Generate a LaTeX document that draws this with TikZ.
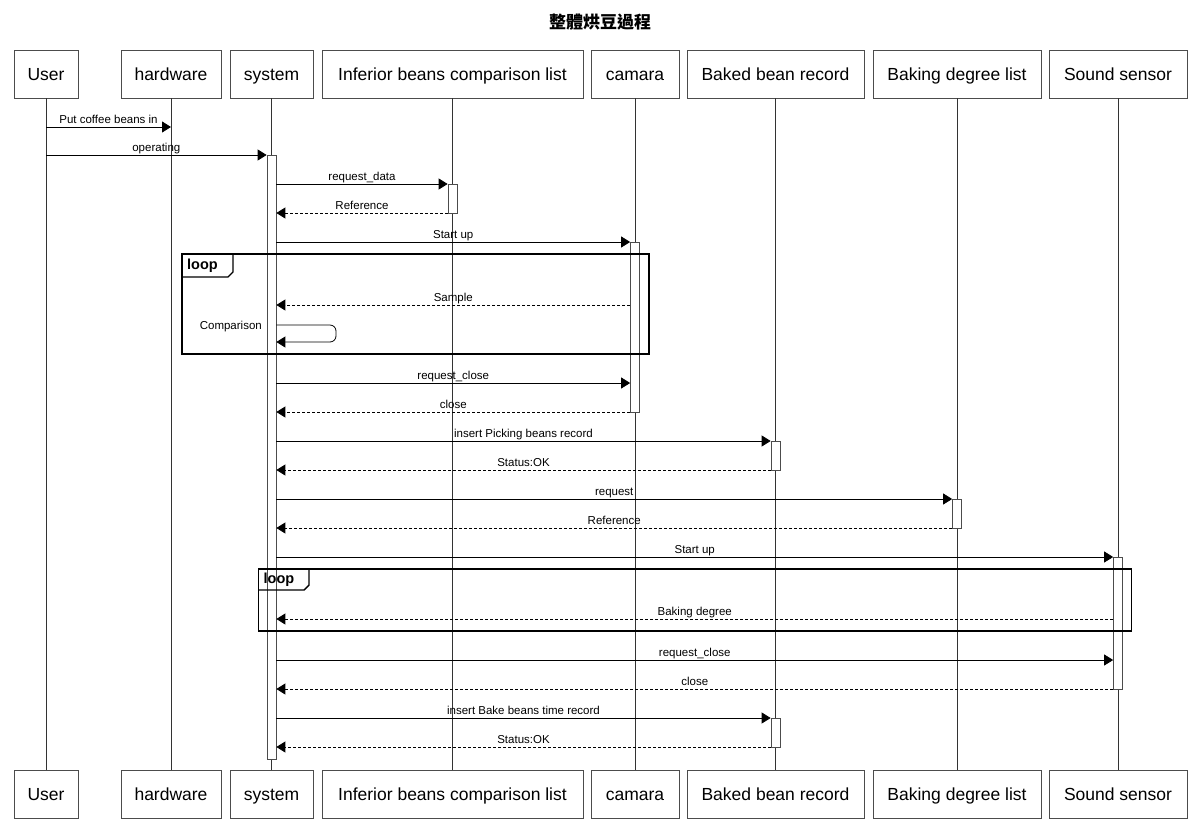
\documentclass[tikz,border=0pt]{standalone}
\usepackage{fontspec}
\setmainfont{Liberation Sans}
\newfontfamily\cjk{Noto Sans CJK TC}
\usetikzlibrary{arrows.meta}
\begin{document}
\begin{tikzpicture}[x=1pt,y=-1pt,
  part/.style={draw=black!70, line width=0.8pt, fill=white, minimum height=48pt, inner sep=0pt, text height=12.6pt, text depth=0pt, font=\fontsize{17.5}{20}\selectfont},
  life/.style={draw=black!80, line width=0.7pt},
  actbar/.style={draw=black!70, fill=white, line width=0.7pt, minimum width=9pt, inner sep=0pt},
  msg/.style={-{Triangle[length=9pt,width=11pt]}, line width=0.8pt},
  ret/.style={msg, dash pattern=on 3pt off 2pt},
  lbl/.style={font=\fontsize{11.5}{13}\selectfont, inner sep=0pt, anchor=base, midway, yshift=3.5pt},
  framebox/.style={draw=black, line width=1.4pt},
  looplbl/.style={font=\bfseries\fontsize{14.5}{16}\selectfont, inner sep=0pt, anchor=west},
]
\useasboundingbox (0,0) rectangle (1200,839);
\node[font=\cjk\bfseries\fontsize{17}{20}\selectfont] (title) at (600,22) {整體烘豆過程};

% participants top
\node[part, minimum width=64pt]  (uT) at (46,74) {User};
\node[part, minimum width=100pt] (hT) at (171,74) {hardware};
\node[part, minimum width=83pt]  (sT) at (271.5,74) {system};
\node[part, minimum width=261pt] (iT) at (452.5,74) {Inferior beans comparison list};
\node[part, minimum width=88pt]  (cT) at (635,74) {camara};
\node[part, minimum width=177pt] (bT) at (775.5,74) {Baked bean record};
\node[part, minimum width=168pt] (dT) at (957,74) {Baking degree list};
\node[part, minimum width=138pt] (nT) at (1118,74) {Sound sensor};
% participants bottom
\node[part, minimum width=64pt]  (uB) at (46,794.5) {User};
\node[part, minimum width=100pt] (hB) at (171,794.5) {hardware};
\node[part, minimum width=83pt]  (sB) at (271.5,794.5) {system};
\node[part, minimum width=261pt] (iB) at (452.5,794.5) {Inferior beans comparison list};
\node[part, minimum width=88pt]  (cB) at (635,794.5) {camara};
\node[part, minimum width=177pt] (bB) at (775.5,794.5) {Baked bean record};
\node[part, minimum width=168pt] (dB) at (957,794.5) {Baking degree list};
\node[part, minimum width=138pt] (nB) at (1118,794.5) {Sound sensor};

% lifelines
\foreach \p in {u,h,s,i,c,b,d,n} {\draw[life] (\p T.south) -- (\p B.north);}

% activation bars
\node[actbar, minimum height=604pt] (aS) at (271.5,457) {};
\node[actbar, minimum height=29pt]  (aI) at (452.5,198.5) {};
\node[actbar, minimum height=170pt] (aC) at (635,327) {};
\node[actbar, minimum height=29pt]  (aB1) at (775.5,455.5) {};
\node[actbar, minimum height=29pt]  (aD) at (957,513.5) {};
\node[actbar, minimum height=132pt] (aN) at (1118,623) {};
\node[actbar, minimum height=29pt]  (aB2) at (775.5,732.5) {};

% message rows
\foreach \n/\y in {1/127,2/155,3/184,4/213,5/242,6/305,7a/325,7b/342,8/383,9/412,10/441,11/470,12/499,13/528,14/557,15/619,16/660,17/689,18/718,19/747}
  {\coordinate (r\n) at (0,\y);}
\coordinate (selfx) at (336,0);

\draw[msg] (uT.south |- r1) -- node[lbl] (l1) {Put coffee beans in} (hT.south |- r1);
\draw[msg] (uT.south |- r2) -- node[lbl] (l2) {operating} (aS.west |- r2);
\draw[msg] (aS.east |- r3) -- node[lbl] (l3) {request\_data} (aI.west |- r3);
\draw[ret] (aI.west |- r4) -- node[lbl] (l4) {Reference} (aS.east |- r4);
\draw[msg] (aS.east |- r5) -- node[lbl] (l5) {Start up} (aC.west |- r5);
\draw[ret] (aC.west |- r6) -- node[lbl] (l6) {Sample} (aS.east |- r6);
\draw[msg, rounded corners=6pt] (aS.east |- r7a) -- (selfx |- r7a) -- (selfx |- r7b) -- (aS.east |- r7b);
\node[font=\fontsize{11.5}{13}\selectfont, inner sep=0pt, anchor=base east] (l7) at (262,329.5) {Comparison};
\draw[msg] (aS.east |- r8) -- node[lbl] (l8) {request\_close} (aC.west |- r8);
\draw[ret] (aC.west |- r9) -- node[lbl] (l9) {close} (aS.east |- r9);
\draw[msg] (aS.east |- r10) -- node[lbl] (l10) {insert Picking beans record} (aB1.west |- r10);
\draw[ret] (aB1.west |- r11) -- node[lbl] (l11) {Status:OK} (aS.east |- r11);
\draw[msg] (aS.east |- r12) -- node[lbl] (l12) {request} (aD.west |- r12);
\draw[ret] (aD.west |- r13) -- node[lbl] (l13) {Reference} (aS.east |- r13);
\draw[msg] (aS.east |- r14) -- node[lbl] (l14) {Start up} (aN.west |- r14);
\draw[ret] (aN.west |- r15) -- node[lbl] (l15) {Baking degree} (aS.east |- r15);
\draw[msg] (aS.east |- r16) -- node[lbl] (l16) {request\_close} (aN.west |- r16);
\draw[ret] (aN.west |- r17) -- node[lbl] (l17) {close} (aS.east |- r17);
\draw[msg] (aS.east |- r18) -- node[lbl] (l18) {insert Bake beans time record} (aB2.west |- r18);
\draw[ret] (aB2.west |- r19) -- node[lbl] (l19) {Status:OK} (aS.east |- r19);

% loop frames
\draw[framebox] (182,254) rectangle (649,354);
\draw[framebox] (182,277) -- (228,277) -- (233,272) -- (233,254);
\node[looplbl] (loop1) at (187,265.5) {loop};
\draw[framebox] (258.5,569) rectangle (1131.5,631);
\draw[framebox] (258.5,590) -- (304,590) -- (309,585) -- (309,569);
\node[looplbl] (loop2) at (263.5,579.5) {loop};
\end{tikzpicture}
\end{document}
